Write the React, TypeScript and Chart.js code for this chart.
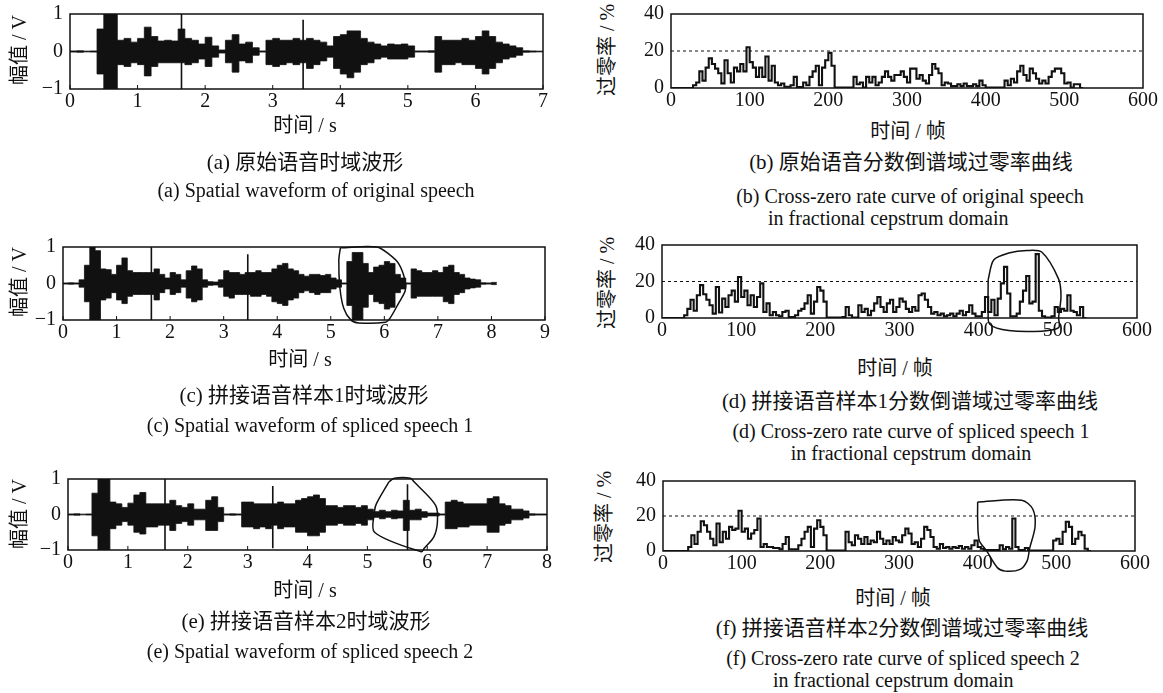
import React, { useEffect, useRef } from "react";
import { Chart, registerables } from "chart.js";

Chart.register(...registerables);

const INK = "#111";
const SERIF = '"Liberation Serif", "Noto Sans CJK SC", serif';

// ---------- waveform data (envelope per 0.1 s) ----------
const WAVE_STEP = 0.1;
const WAVE_Y_TICKS = [-1, 0, 1];

const A_X_TICKS = [0, 1, 2, 3, 4, 5, 6, 7];
const A_UP = [0.015, 0.02, 0.01, 0.015, 0.6, 1, 1, 0.3, 0.35, 0.25, 0.35, 0.65, 0.4, 0.28, 0.3, 0.28, 0.6, 0.35, 0.3, 0.2, 0.38, 0.15, 0.04, 0.3, 0.45, 0.2, 0.25, 0.1, 0.015, 0.3, 0.35, 0.3, 0.3, 0.35, 0.3, 0.35, 0.3, 0.25, 0.15, 0.4, 0.45, 0.55, 0.55, 0.35, 0.25, 0.2, 0.15, 0.2, 0.18, 0.2, 0.15, 0.015, 0.015, 0.02, 0.4, 0.3, 0.3, 0.3, 0.35, 0.3, 0.4, 0.55, 0.4, 0.25, 0.2, 0.15, 0.1, 0.02, 0.015, 0.01];
const A_LO = [-0.015, -0.02, -0.01, -0.015, -0.6, -1, -1, -0.35, -0.4, -0.3, -0.35, -0.65, -0.4, -0.3, -0.3, -0.3, -0.3, -0.35, -0.3, -0.2, -0.4, -0.15, -0.04, -0.3, -0.55, -0.25, -0.3, -0.1, -0.015, -0.35, -0.4, -0.35, -0.3, -0.35, -0.3, -0.45, -0.35, -0.25, -0.15, -0.45, -0.6, -0.7, -0.55, -0.35, -0.3, -0.2, -0.15, -0.2, -0.2, -0.2, -0.15, -0.015, -0.015, -0.02, -0.55, -0.35, -0.35, -0.3, -0.35, -0.35, -0.45, -0.6, -0.45, -0.3, -0.2, -0.15, -0.1, -0.02, -0.015, -0.01];
const A_SPIKES = [[1.65, -1, 1], [3.45, -1, 0.85]];

const C_X_TICKS = [0, 1, 2, 3, 4, 5, 6, 7, 8, 9];
const C_UP = [0.015, 0.02, 0.015, 0.1, 0.5, 1, 0.9, 0.4, 0.38, 0.25, 0.5, 0.7, 0.35, 0.3, 0.3, 0.3, 0.3, 0.4, 0.25, 0.15, 0.3, 0.25, 0.1, 0.35, 0.48, 0.4, 0.1, 0.05, 0.04, 0.1, 0.35, 0.3, 0.3, 0.25, 0.3, 0.3, 0.35, 0.3, 0.3, 0.4, 0.5, 0.55, 0.4, 0.35, 0.25, 0.2, 0.25, 0.25, 0.22, 0.25, 0.15, 0.1, 0.015, 0.6, 0.85, 0.85, 0.55, 0.3, 0.45, 0.5, 0.6, 0.55, 0.25, 0.15, 0.015, 0.4, 0.35, 0.3, 0.3, 0.35, 0.3, 0.45, 0.5, 0.3, 0.25, 0.15, 0.12, 0.1, 0.02, 0.015, 0.03];
const C_LO = [-0.015, -0.02, -0.015, -0.1, -0.5, -1, -1, -0.45, -0.4, -0.25, -0.45, -0.55, -0.35, -0.3, -0.3, -0.3, -0.3, -0.45, -0.25, -0.15, -0.3, -0.25, -0.1, -0.4, -0.5, -0.45, -0.1, -0.05, -0.04, -0.1, -0.35, -0.4, -0.3, -0.3, -0.3, -0.35, -0.35, -0.3, -0.35, -0.5, -0.55, -0.6, -0.45, -0.4, -0.25, -0.2, -0.25, -0.3, -0.25, -0.25, -0.15, -0.1, -0.015, -0.6, -1, -1, -0.65, -0.3, -0.5, -0.55, -0.7, -0.65, -0.25, -0.15, -0.015, -0.4, -0.35, -0.35, -0.35, -0.35, -0.35, -0.5, -0.55, -0.3, -0.25, -0.15, -0.12, -0.1, -0.02, -0.015, -0.03];
const C_SPIKES = [[1.65, -1, 1], [3.45, -1, 0.8]];
const C_MARK = [[5.18, 0.98], [5.86, 1.0], [6.08, 0.81], [6.27, 0.54], [6.39, 0.07], [6.39, -0.2], [6.27, -0.53], [6.11, -0.94], [6.02, -1.06], [5.52, -1.08], [5.37, -0.99], [5.24, -0.67], [5.17, -0.11], [5.15, 0.63], [5.18, 0.98]];

const E_X_TICKS = [0, 1, 2, 3, 4, 5, 6, 7, 8];
const E_UP = [0.015, 0.02, 0.01, 0.015, 0.6, 1, 1, 0.35, 0.3, 0.2, 0.32, 0.55, 0.62, 0.3, 0.3, 0.3, 0.3, 0.4, 0.25, 0.2, 0.3, 0.15, 0.15, 0.4, 0.5, 0.2, 0.015, 0.02, 0.015, 0.35, 0.35, 0.3, 0.3, 0.3, 0.3, 0.35, 0.3, 0.3, 0.4, 0.45, 0.5, 0.55, 0.45, 0.25, 0.25, 0.2, 0.25, 0.25, 0.2, 0.25, 0.15, 0.08, 0.12, 0.08, 0.12, 0.1, 0.4, 0.12, 0.15, 0.08, 0.04, 0.04, 0.015, 0.35, 0.4, 0.35, 0.3, 0.3, 0.3, 0.3, 0.45, 0.5, 0.3, 0.25, 0.15, 0.15, 0.1, 0.02, 0.015, 0.015];
const E_LO = [-0.015, -0.02, -0.01, -0.015, -0.6, -1, -1, -0.4, -0.3, -0.2, -0.3, -0.5, -0.55, -0.35, -0.35, -0.3, -0.3, -0.45, -0.25, -0.2, -0.3, -0.15, -0.15, -0.45, -0.45, -0.2, -0.015, -0.02, -0.015, -0.35, -0.35, -0.4, -0.35, -0.4, -0.3, -0.4, -0.35, -0.35, -0.5, -0.5, -0.6, -0.6, -0.5, -0.3, -0.3, -0.25, -0.3, -0.3, -0.25, -0.3, -0.15, -0.08, -0.12, -0.08, -0.12, -0.1, -0.45, -0.15, -0.15, -0.08, -0.04, -0.04, -0.015, -0.4, -0.4, -0.35, -0.35, -0.3, -0.3, -0.3, -0.5, -0.5, -0.3, -0.25, -0.15, -0.15, -0.1, -0.02, -0.015, -0.015];
const E_SPIKES = [[1.62, -1, 1], [3.42, -0.95, 0.8], [5.67, -1, 0.85]];
const E_MARK = [[5.36, 0.92], [5.45, 1.02], [5.72, 1.02], [5.78, 0.92], [6.14, 0.26], [6.17, -0.21], [6.11, -0.63], [5.95, -0.95], [5.9, -1.05], [5.12, -0.5], [5.12, 0.1], [5.15, 0.3], [5.36, 0.92]];

// ---------- zero-crossing-rate data (per 4 frames) ----------
const ZCR_STEP = 4;
const ZCR_X_TICKS = [0, 100, 200, 300, 400, 500, 600];
const ZCR_Y_TICKS = [0, 20, 40];
const ZCR_THRESHOLD = 20;

const B_ZCR = [0, 0, 0, 0, 0, 0, 0, 1.5, 3, 9, 4, 11, 16, 13, 10.5, 8, 2.5, 15, 8, 3, 11, 9, 13, 9, 22, 14, 11, 6, 11, 6, 17, 4, 12, 3, 1.5, 2.4, 0.7, 0.7, 1.5, 6, 0.5, 0.5, 3, 1.5, 6, 9, 12, 1.5, 11, 15, 19, 12, 0.2, 0.2, 0.2, 0.2, 0.2, 0.2, 6, 2, 3, 0.2, 6, 3, 6, 1.5, 3, 6, 9, 6, 4, 7, 7, 9, 6, 3, 10.5, 10.5, 5, 7, 4, 2.4, 7, 13, 10.5, 8, 1.5, 3, 2.4, 1, 1, 2, 1, 2.4, 1, 1, 2, 1, 4, 1.5, 0.2, 0.2, 0.2, 0.2, 0.2, 0.2, 4, 1.5, 5, 3, 9, 12, 7, 4, 10.5, 8, 5, 2.4, 4, 2.4, 6, 9, 10.5, 10.5, 8, 2.4, 3, 0.2, 2, 2, 0];

const D_ZCR = [0, 0, 0, 0, 0, 0, 0, 1.5, 5, 10, 4, 12.5, 18, 13, 10, 7, 2.4, 17, 3, 10.6, 6, 12.5, 15, 9, 22.5, 11.5, 15, 7, 12.5, 6, 11.5, 19, 3.3, 8, 1.5, 3.3, 1.5, 1, 3.3, 4, 0.5, 0.5, 1.5, 4, 5, 8, 12.5, 2.4, 9, 17, 15, 9, 0.3, 0.3, 0.3, 0.3, 0.3, 0.5, 6, 1.5, 0.3, 0.3, 7, 3.3, 5, 1.5, 4, 8, 11.5, 6, 3.3, 8, 10, 3.3, 6, 10.6, 9, 5, 3.3, 6, 4, 12.5, 13.4, 10, 6, 2.4, 3.3, 1.5, 2.4, 1, 1.5, 2.4, 1, 2.4, 4, 1.5, 3.3, 7, 2.4, 1, 1, 3.3, 11.5, 3.3, 10, 1.5, 10.6, 19, 28, 13.4, 1, 1, 2.4, 9, 15, 23, 8, 9, 35, 4, 1, 0.3, 0.3, 1, 6, 3.3, 5, 4, 12.5, 4, 3.3, 1.5, 6, 0];
const D_MARK = [[412, 21], [419, 31.8], [438, 35.6], [461, 37], [480, 36], [501, 21.3], [504, 11.8], [501, 0.4], [501, -5.3], [480, -7.2], [438, -6.9], [414, -3.4], [412, 4], [412, 21]];

const F_ZCR = [0, 0, 0, 0, 0, 0, 0, 0, 2.3, 9, 4, 11, 17, 14.7, 11, 7, 3.3, 15.7, 5, 11, 7, 13.8, 12, 12.8, 23, 11, 12.8, 7, 10, 12, 18.6, 2.3, 4, 2.3, 2.3, 1.7, 1.7, 1, 4, 8, 1, 1, 1, 3.3, 7, 11, 13.8, 2.3, 12.8, 17.6, 13.8, 9, 0.2, 0.2, 0.2, 0.2, 0.2, 0.2, 11, 5, 3.3, 9, 7, 4, 8, 4, 6, 5, 11, 7, 4, 6, 4, 8, 6, 5, 9, 12.8, 10, 4, 5, 2.3, 7, 13.8, 12, 8, 2.3, 1.3, 4, 1.7, 2.3, 1.3, 2.3, 1.7, 2.9, 1.3, 2.3, 1.3, 3.3, 6, 2.3, 1.3, 0.5, 0.5, 0.5, 0.5, 0.5, 3.3, 1, 2.3, 1.3, 18.6, 2.3, 0.5, 0.5, 1.7, 0.2, 0.2, 0.2, 0.2, 0.2, 0.2, 0.2, 0.2, 6, 7, 4, 11, 16.7, 13.8, 4, 7, 11, 9, 1.3, 0];
const F_MARK = [[400, 28], [456, 29], [470, 24], [473, 14], [466, 1.4], [463, -5.5], [454, -10.5], [435, -11.5], [425, -9.5], [411, 0.4], [402, 6], [400, 18], [400, 28]];

// ---------- layout helpers ----------
const Y_AXIS_W = 44;
const X_AXIS_H = 30;
const PAD_TOP = 14;
const PAD_RIGHT = 26;

type Box = { L: number; T: number; R: number; B: number };

const fmt = (v: number) => (v < 0 ? "\u2212" + Math.abs(v) : String(v));

const framePlugin = {
  id: "boxFrame",
  afterDatasetsDraw(chart: any, _args: any, opts: any) {
    const { ctx, chartArea: a } = chart;
    ctx.save();
    ctx.strokeStyle = INK;
    ctx.lineWidth = 1.5;
    ctx.strokeRect(a.left, a.top, a.right - a.left, a.bottom - a.top);
    if (opts && opts.inward) {
      const xs = chart.scales.x;
      ctx.lineWidth = 1;
      for (const t of xs.ticks) {
        const px = xs.getPixelForValue(t.value);
        ctx.beginPath();
        ctx.moveTo(px, a.bottom);
        ctx.lineTo(px, a.bottom - 4);
        ctx.stroke();
      }
    }
    ctx.restore();
  },
};

function stepSeries(vals: number[], step: number) {
  const pts = vals.map((v, i) => ({ x: i * step, y: v }));
  pts.push({ x: vals.length * step, y: vals[vals.length - 1] });
  return pts;
}

function spikeSeries(spikes: number[][]) {
  const pts: any[] = [];
  spikes.forEach(([t, lo, hi]) => {
    pts.push({ x: t, y: lo }, { x: t, y: hi }, { x: t, y: null });
  });
  return pts;
}

function markDataset(mark: number[][], tension: number) {
  return {
    data: mark.map(([x, y]) => ({ x, y })),
    borderColor: INK,
    borderWidth: 1.5,
    pointRadius: 0,
    tension,
    capBezierPoints: false,
    clip: false,
    fill: false,
  };
}

function makeOptions(xTicks: number[], yTicks: number[], inward: boolean) {
  const tickFont = { family: SERIF, size: 20 };
  return {
    animation: false,
    responsive: false,
    maintainAspectRatio: false,
    events: [],
    layout: { padding: { top: PAD_TOP, right: PAD_RIGHT, left: 0, bottom: 0 } },
    plugins: {
      legend: { display: false },
      tooltip: { enabled: false },
      boxFrame: { inward },
    },
    scales: {
      x: {
        type: "linear",
        min: xTicks[0],
        max: xTicks[xTicks.length - 1],
        grid: { display: false, drawTicks: false },
        border: { display: false },
        ticks: { font: tickFont, color: INK, padding: 1, maxRotation: 0, autoSkip: false, callback: (v: number) => fmt(v) },
        afterBuildTicks: (s: any) => {
          s.ticks = xTicks.map((v) => ({ value: v }));
        },
        afterFit: (s: any) => {
          s.height = X_AXIS_H;
          s.paddingLeft = 0;
          s.paddingRight = 0;
          s.paddingTop = 0;
          s.paddingBottom = 0;
        },
      },
      y: {
        type: "linear",
        min: yTicks[0],
        max: yTicks[yTicks.length - 1],
        grid: { display: false, drawTicks: false },
        border: { display: false },
        ticks: { font: tickFont, color: INK, padding: 7, autoSkip: false, callback: (v: number) => fmt(v) },
        afterBuildTicks: (s: any) => {
          s.ticks = yTicks.map((v) => ({ value: v }));
        },
        afterFit: (s: any) => {
          s.width = Y_AXIS_W;
          s.paddingLeft = 0;
          s.paddingRight = 0;
          s.paddingTop = 0;
          s.paddingBottom = 0;
        },
      },
    },
  };
}

function waveConfig(up: number[], lo: number[], spikes: number[][], xTicks: number[], mark?: number[][]) {
  const datasets: any[] = [
    { data: stepSeries(up, WAVE_STEP), stepped: true, borderColor: INK, borderWidth: 0.8, pointRadius: 0, fill: false },
    { data: stepSeries(lo, WAVE_STEP), stepped: true, borderColor: INK, borderWidth: 0.8, pointRadius: 0, fill: "-1", backgroundColor: INK },
    { data: spikeSeries(spikes), borderColor: INK, borderWidth: 1.6, pointRadius: 0, spanGaps: false, fill: false },
  ];
  if (mark) datasets.push(markDataset(mark, 0.3));
  return {
    type: "line",
    data: { datasets },
    options: makeOptions(xTicks, WAVE_Y_TICKS, true),
    plugins: [framePlugin],
  };
}

function zcrConfig(zcr: number[], mark?: number[][]) {
  const datasets: any[] = [
    { data: stepSeries(zcr, ZCR_STEP), stepped: true, borderColor: INK, borderWidth: 2.1, pointRadius: 0, fill: false },
    {
      data: [
        { x: ZCR_X_TICKS[0], y: ZCR_THRESHOLD },
        { x: ZCR_X_TICKS[ZCR_X_TICKS.length - 1], y: ZCR_THRESHOLD },
      ],
      borderColor: INK,
      borderWidth: 1,
      borderDash: [3, 3],
      pointRadius: 0,
      fill: false,
    },
  ];
  if (mark) datasets.push(markDataset(mark, 0.3));
  return {
    type: "line",
    data: { datasets },
    options: makeOptions(ZCR_X_TICKS, ZCR_Y_TICKS, false),
    plugins: [framePlugin],
  };
}

function Plot({ box, config }: { box: Box; config: () => any }) {
  const ref = useRef<HTMLCanvasElement>(null);
  useEffect(() => {
    const chart = new Chart(ref.current as HTMLCanvasElement, config());
    let alive = true;
    const fonts: any = (document as any).fonts;
    if (fonts && fonts.load) {
      Promise.all([
        fonts.load('20px "Liberation Serif"', "0123456789"),
        fonts.load('20px "Noto Sans CJK SC"', "时间"),
      ])
        .catch(() => null)
        .then(() => {
          if (alive) chart.update();
        });
    }
    return () => {
      alive = false;
      chart.destroy();
    };
  }, []);
  const w = box.R - box.L + Y_AXIS_W + PAD_RIGHT;
  const h = box.B - box.T + PAD_TOP + X_AXIS_H;
  return (
    <canvas
      ref={ref}
      width={w}
      height={h}
      style={{ position: "absolute", left: box.L - Y_AXIS_W, top: box.T - PAD_TOP, width: w, height: h }}
    />
  );
}

function Txt({ x, y, size = 18, rotate = false, left = false, children }: any) {
  return (
    <div
      style={{
        position: "absolute",
        left: x,
        top: y,
        transform: (left ? "translate(0,-50%)" : "translate(-50%,-50%)") + (rotate ? " rotate(-90deg)" : ""),
        fontFamily: SERIF,
        fontSize: size,
        lineHeight: 1,
        color: INK,
        whiteSpace: "nowrap",
      }}
    >
      {children}
    </div>
  );
}

const BOX_A: Box = { L: 70, T: 14, R: 543, B: 89 };
const BOX_B: Box = { L: 671, T: 14, R: 1143, B: 88 };
const BOX_C: Box = { L: 63, T: 247, R: 545, B: 320 };
const BOX_D: Box = { L: 662, T: 245, R: 1137, B: 318 };
const BOX_E: Box = { L: 68, T: 479, R: 547, B: 550 };
const BOX_F: Box = { L: 663, T: 481, R: 1135, B: 551 };

const CN = 21;
const EN = 20;

export default function App() {
  return (
    <div style={{ position: "absolute", left: 0, top: 0, width: 1163, height: 693, background: "#fff", overflow: "hidden" }}>
      <Plot box={BOX_A} config={() => waveConfig(A_UP, A_LO, A_SPIKES, A_X_TICKS)} />
      <Plot box={BOX_B} config={() => zcrConfig(B_ZCR)} />
      <Plot box={BOX_C} config={() => waveConfig(C_UP, C_LO, C_SPIKES, C_X_TICKS, C_MARK)} />
      <Plot box={BOX_D} config={() => zcrConfig(D_ZCR, D_MARK)} />
      <Plot box={BOX_E} config={() => waveConfig(E_UP, E_LO, E_SPIKES, E_X_TICKS, E_MARK)} />
      <Plot box={BOX_F} config={() => zcrConfig(F_ZCR, F_MARK)} />

      {/* (a) */}
      <Txt x={305} y={125} size={20}>时间 / s</Txt>
      <Txt x={19} y={50} size={20} rotate>幅值 / V</Txt>
      <Txt x={305} y={162} size={CN}>(a) 原始语音时域波形</Txt>
      <Txt x={316} y={190} size={EN}>(a) Spatial waveform of original speech</Txt>

      {/* (b) */}
      <Txt x={908} y={131} size={20}>时间 / 帧</Txt>
      <Txt x={607} y={50} size={20} rotate>过零率 / %</Txt>
      <Txt x={911} y={162} size={CN}>(b) 原始语音分数倒谱域过零率曲线</Txt>
      <Txt x={910} y={196} size={EN}>(b) Cross-zero rate curve of original speech</Txt>
      <Txt x={768} y={218} size={EN} left>in fractional cepstrum domain</Txt>

      {/* (c) */}
      <Txt x={300} y={359} size={20}>时间 / s</Txt>
      <Txt x={19} y={282} size={20} rotate>幅值 / V</Txt>
      <Txt x={304} y={395} size={CN}>(c) 拼接语音样本1时域波形</Txt>
      <Txt x={310} y={425} size={EN}>(c) Spatial waveform of spliced speech 1</Txt>

      {/* (d) */}
      <Txt x={895} y={368} size={20}>时间 / 帧</Txt>
      <Txt x={607} y={283} size={20} rotate>过零率 / %</Txt>
      <Txt x={910} y={401} size={CN}>(d) 拼接语音样本1分数倒谱域过零率曲线</Txt>
      <Txt x={911} y={431} size={EN}>(d) Cross-zero rate curve of spliced speech 1</Txt>
      <Txt x={911} y={453} size={EN}>in fractional cepstrum domain</Txt>

      {/* (e) */}
      <Txt x={305} y={590} size={20}>时间 / s</Txt>
      <Txt x={19} y={514} size={20} rotate>幅值 / V</Txt>
      <Txt x={306} y={621} size={CN}>(e) 拼接语音样本2时域波形</Txt>
      <Txt x={310} y={651} size={EN}>(e) Spatial waveform of spliced speech 2</Txt>

      {/* (f) */}
      <Txt x={893} y={598} size={20}>时间 / 帧</Txt>
      <Txt x={604} y={517} size={20} rotate>过零率 / %</Txt>
      <Txt x={902} y={628} size={CN}>(f) 拼接语音样本2分数倒谱域过零率曲线</Txt>
      <Txt x={903} y={658} size={EN}>(f) Cross-zero rate curve of spliced speech 2</Txt>
      <Txt x={773} y={680} size={EN} left>in fractional cepstrum domain</Txt>
    </div>
  );
}
